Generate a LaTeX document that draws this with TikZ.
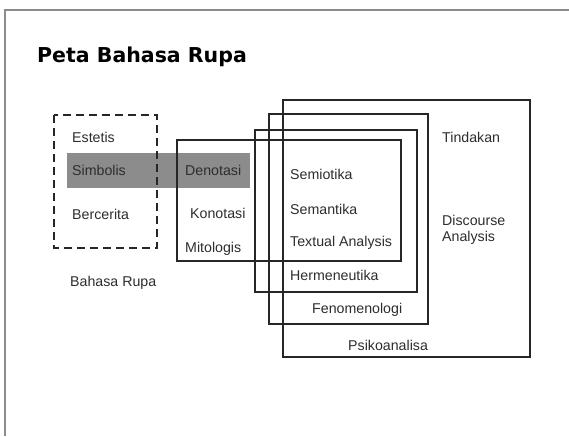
\documentclass[tikz,border=0pt]{standalone}
\usepackage{fontspec}
\setmainfont{Liberation Sans}
\newfontfamily\titlefont{DejaVu Sans}
\definecolor{bargray}{RGB}{140,140,140}
\definecolor{framegray}{RGB}{140,140,140}
\definecolor{txtgray}{RGB}{45,45,45}
\tikzset{
  lbl/.style={anchor=west, inner sep=0pt, font=\fontsize{14.2}{16}\selectfont, text=txtgray},
  boxline/.style={draw=black!85, line width=1.4pt},
  dashbox/.style={draw=black!85, line width=2.4pt, dash pattern=on 8pt off 5pt},
}
\begin{document}
\begin{tikzpicture}[x=1pt,y=-1pt]
\useasboundingbox (0,0) rectangle (569,436);
\fill[white] (0,0) rectangle (569,436);
% slide frame
\draw[framegray, line width=2pt] (5,436) -- (5,10) -- (569,10);
% title
\node[anchor=base west, inner sep=0pt, font=\titlefont\bfseries\fontsize{20.5}{24}\selectfont] (title) at (37,63) {Peta Bahasa Rupa};
% gray bar
\fill[bargray] (67,153) rectangle (250,188);
% dashed box
\draw[dashbox] (54,115) rectangle (157,248);
% nested boxes
\draw[boxline] (177,140) rectangle (401,261);
\draw[boxline] (255,130) rectangle (417,292);
\draw[boxline] (269,114) rectangle (428,324);
\draw[boxline] (283,100) rectangle (530,357);
% labels
\node[lbl] (estetis) at (72,137) {Estetis};
\node[lbl] (simbolis) at (72,170) {Simbolis};
\node[lbl] (bercerita) at (72,214) {Bercerita};
\node[lbl] (bahasarupa) at (70,283) {Bahasa Rupa};
\node[lbl] (denotasi) at (185,170) {Denotasi};
\node[lbl] (konotasi) at (190,213) {Konotasi};
\node[lbl] (mitologis) at (185,249) {Mitologis};
\node[lbl] (semiotika) at (290,174) {Semiotika};
\node[lbl] (semantika) at (290,209) {Semantika};
\node[lbl] (textual) at (290,243) {Textual Analysis};
\node[lbl] (hermeneutika) at (290,275) {Hermeneutika};
\node[lbl] (fenomenologi) at (312,310) {Fenomenologi};
\node[lbl] (psikoanalisa) at (348,345) {Psikoanalisa};
\node[lbl] (tindakan) at (442,137) {Tindakan};
\node[lbl, align=left] (discourse) at (442,230) {Discourse\\Analysis};
\end{tikzpicture}
\end{document}
